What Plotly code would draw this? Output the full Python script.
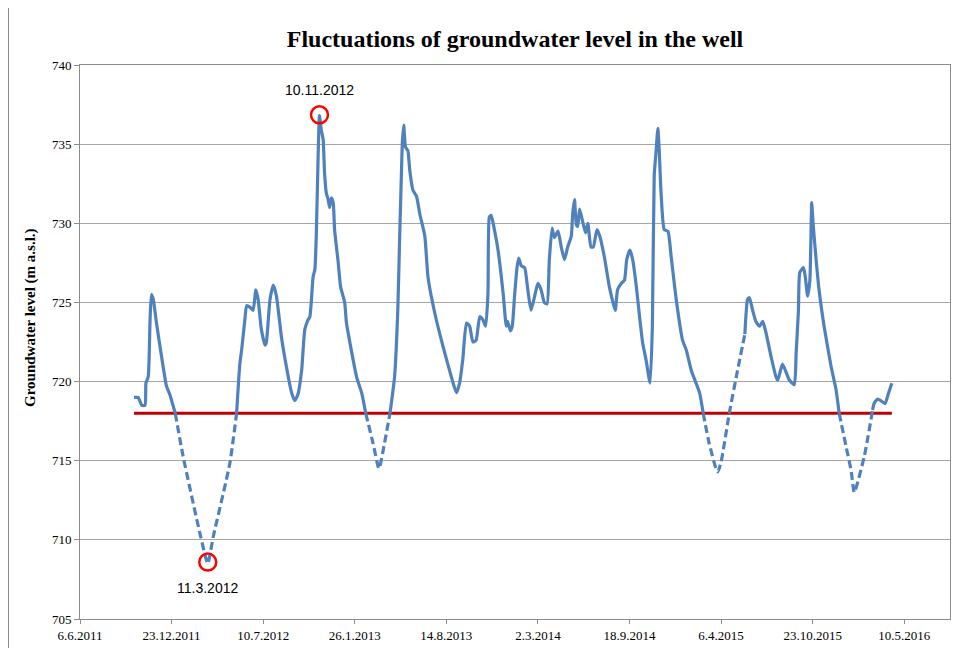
import plotly.graph_objects as go
import pandas as pd

# ---------------- data ----------------
dates = [
    "2011-10-02", "2011-10-11", "2011-10-19", "2011-10-26", "2011-10-28", "2011-11-02", "2011-11-06",
    "2011-11-09", "2011-11-13", "2011-11-20", "2011-12-01", "2011-12-12", "2011-12-19", "2011-12-31",
    "2012-01-17", "2012-02-23", "2012-03-11", "2012-03-23", "2012-04-28", "2012-05-13",
    "2012-05-20", "2012-05-24", "2012-05-31", "2012-06-04", "2012-06-11", "2012-06-18", "2012-06-24",
    "2012-06-29", "2012-07-06", "2012-07-14", "2012-07-17", "2012-07-25", "2012-08-01", "2012-08-08",
    "2012-08-19", "2012-08-30", "2012-09-10", "2012-09-17", "2012-09-24", "2012-10-02", "2012-10-09",
    "2012-10-16", "2012-10-20", "2012-10-23", "2012-10-27", "2012-10-31", "2012-11-03", "2012-11-07",
    "2012-11-10", "2012-11-14", "2012-11-18", "2012-11-21", "2012-11-25", "2012-11-29", "2012-12-02",
    "2012-12-06", "2012-12-10", "2012-12-13", "2012-12-21", "2012-12-26", "2013-01-04", "2013-01-08",
    "2013-01-30", "2013-02-10", "2013-02-19",
    "2013-03-07", "2013-03-20", "2013-04-01", "2013-04-13",
    "2013-04-23", "2013-04-30", "2013-05-04", "2013-05-08", "2013-05-10", "2013-05-13", "2013-05-17",
    "2013-05-22", "2013-05-26", "2013-06-02", "2013-06-10", "2013-06-17", "2013-06-28", "2013-07-05",
    "2013-07-20", "2013-08-07", "2013-08-25", "2013-09-05", "2013-09-12", "2013-09-19", "2013-09-27",
    "2013-10-04", "2013-10-11", "2013-10-18", "2013-10-26", "2013-11-02", "2013-11-08", "2013-11-13",
    "2013-11-16", "2013-11-20", "2013-11-27", "2013-12-05", "2013-12-16", "2013-12-23", "2013-12-26",
    "2014-01-01", "2014-01-05", "2014-01-10", "2014-01-15", "2014-01-19", "2014-01-25", "2014-02-01",
    "2014-02-08", "2014-02-15", "2014-02-23", "2014-03-02", "2014-03-09", "2014-03-16", "2014-03-22",
    "2014-03-27", "2014-04-02", "2014-04-07", "2014-04-15", "2014-04-22", "2014-04-29", "2014-05-06",
    "2014-05-14", "2014-05-17", "2014-05-21", "2014-05-25", "2014-05-28", "2014-06-01", "2014-06-07",
    "2014-06-14", "2014-06-19", "2014-06-26", "2014-07-01", "2014-07-09", "2014-07-15", "2014-07-25",
    "2014-08-05", "2014-08-13", "2014-08-18", "2014-08-23", "2014-08-31", "2014-09-07", "2014-09-12",
    "2014-09-19", "2014-09-25", "2014-10-03", "2014-10-10", "2014-10-17", "2014-10-24", "2014-11-02",
    "2014-11-07", "2014-11-11", "2014-11-15", "2014-11-19", "2014-11-22", "2014-11-26", "2014-12-03",
    "2014-12-11", "2014-12-18", "2014-12-29", "2015-01-12", "2015-01-20", "2015-01-31", "2015-02-18",
    "2015-02-26",
    "2015-03-11", "2015-03-26", "2015-03-30", "2015-04-06", "2015-04-24", "2015-05-12", "2015-05-28",
    "2015-06-03", "2015-06-07", "2015-06-14", "2015-06-21", "2015-06-29", "2015-07-06", "2015-07-13",
    "2015-07-24", "2015-08-04", "2015-08-08", "2015-08-18", "2015-08-26", "2015-09-02", "2015-09-13",
    "2015-09-17", "2015-09-22", "2015-09-25", "2015-10-03", "2015-10-07", "2015-10-12", "2015-10-17",
    "2015-10-21", "2015-10-24", "2015-10-30", "2015-11-06", "2015-11-17", "2015-12-02", "2015-12-13",
    "2015-12-20",
    "2016-01-04", "2016-01-15", "2016-01-22", "2016-02-13", "2016-03-02",
    "2016-03-05", "2016-03-13", "2016-03-20", "2016-03-29", "2016-04-06", "2016-04-13",
]
levels = [
    719.0, 719.0, 718.5, 718.5, 719.9, 720.3, 723.9,
    725.5, 725.2, 723.7, 721.6, 719.7, 719.2, 718.0,
    715.3, 710.4, 708.5, 710.2, 714.8, 718.0,
    721.1, 722.0, 723.9, 724.8, 724.7, 724.5, 725.8,
    725.2, 723.3, 722.3, 722.5, 725.2, 726.1, 725.4,
    722.8, 720.9, 719.3, 718.8, 719.2, 720.7, 723.3,
    723.9, 724.1, 725.0, 726.6, 727.1, 729.2, 734.2,
    736.8, 735.9, 735.3, 733.2, 731.9, 731.5, 731.0,
    731.6, 731.3, 729.6, 727.5, 726.0, 725.0, 723.7,
    720.3, 719.3, 718.0,
    716.1, 714.5, 716.1, 718.0,
    720.3, 724.5, 729.0, 733.2, 735.1, 736.2, 734.8,
    734.6, 733.4, 732.1, 731.7, 730.6, 729.2, 726.6,
    724.3, 722.2, 720.3, 719.3, 719.9, 721.4, 723.7,
    723.5, 722.5, 722.6, 724.1, 723.9, 723.5, 725.6,
    730.4, 730.5, 729.6, 728.3, 725.6, 723.5, 723.8,
    723.2, 723.5, 725.4, 727.1, 727.8, 727.3, 727.2,
    725.8, 724.5, 725.4, 726.2, 725.8, 725.0, 724.9,
    727.7, 729.7, 729.1, 729.5, 728.5, 727.7, 728.5,
    729.2, 730.6, 731.5, 729.9, 729.8, 730.9, 730.2,
    729.4, 730.0, 728.5, 728.5, 729.6, 729.2, 727.9,
    726.0, 725.0, 724.5, 725.8, 726.2, 726.4, 727.7,
    728.3, 727.7, 726.0, 724.1, 722.4, 721.4, 719.9,
    723.5, 733.0, 734.5, 736.0, 734.6, 731.9, 729.6,
    729.5, 727.9, 725.2, 722.6, 722.0, 720.7, 719.3,
    718.0,
    716.1, 714.5, 714.3, 714.9, 718.0, 720.7, 723.0,
    725.2, 725.3, 724.5, 723.8, 723.5, 723.8, 723.1,
    721.6, 720.3, 720.1, 721.1, 720.6, 720.1, 719.8,
    721.8, 724.5, 726.9, 727.2, 726.6, 725.4, 726.4,
    731.3, 730.0, 727.9, 725.8, 723.5, 721.0, 719.5,
    718.0,
    715.9, 714.4, 713.0, 715.3, 718.2,
    718.6, 718.9, 718.8, 718.6, 719.3, 719.9,
]
# periods in which the level is estimated (drawn dashed)
estimated_periods = [
    ("2011-12-31", "2012-05-13"),
    ("2013-02-19", "2013-04-13"),
    ("2015-02-26", "2015-05-28"),
    ("2015-12-20", "2016-03-02"),
]
threshold_level = 718.0
threshold_dates = ["2011-10-02", "2016-04-13"]

marked_dates = ["2012-11-10", "2012-03-11"]
marked_levels = [736.85, 708.6]
marked_labels = ["10.11.2012", "11.3.2012"]

tick_dates = ["2011-06-06", "2011-12-23", "2012-07-10", "2013-01-26", "2013-08-14",
              "2014-03-02", "2014-09-18", "2015-04-06", "2015-10-23", "2016-05-10"]
tick_labels = ["6.6.2011", "23.12.2011", "10.7.2012", "26.1.2013", "14.8.2013",
               "2.3.2014", "18.9.2014", "6.4.2015", "23.10.2015", "10.5.2016"]

# ---------------- build segments ----------------
d = pd.to_datetime(dates)
periods = [(pd.Timestamp(a), pd.Timestamp(b)) for a, b in estimated_periods]


def is_est(i):
    return any(a <= d[i] and d[i + 1] <= b for a, b in periods)


def run(want):
    xs, ys = [], []
    last = None
    for i in range(len(dates) - 1):
        if is_est(i) != want:
            continue
        if last != i:
            if xs:
                xs.append(None)
                ys.append(None)
            xs.append(dates[i])
            ys.append(levels[i])
        xs.append(dates[i + 1])
        ys.append(levels[i + 1])
        last = i + 1
    return xs, ys


sx, sy = run(False)
ex, ey = run(True)

BLUE = "#4F81BD"
SERIF = "Liberation Serif, Times New Roman, serif"

W, H = 971, 640
ML, MR, MT, MB = 72, 29, 57, 29
PW, PH = W - ML - MR, H - MT - MB

fig = go.Figure()
fig.add_trace(go.Scatter(x=threshold_dates, y=[threshold_level] * 2, mode="lines",
                         line=dict(color="#C00000", width=3), hoverinfo="skip"))
fig.add_trace(go.Scatter(x=ex, y=ey, mode="lines", connectgaps=False,
                         line=dict(color=BLUE, width=3.2, dash="8px,4px", shape="spline", smoothing=0.5)))
fig.add_trace(go.Scatter(x=sx, y=sy, mode="lines", connectgaps=False,
                         line=dict(color=BLUE, width=3.2, shape="spline", smoothing=0.5)))
fig.add_trace(go.Scatter(x=marked_dates, y=marked_levels, mode="markers",
                         marker=dict(symbol="circle-open", size=17, color="#FF0000",
                                     line=dict(width=2.5, color="#FF0000"))))

for dt, lv, lab, off in zip(marked_dates, marked_levels, marked_labels, [-25, 26]):
    fig.add_annotation(x=dt, y=lv, text=lab, showarrow=False, yshift=-off,
                       font=dict(family="Liberation Sans, Arial, sans-serif", size=14, color="#000"))

fig.add_annotation(xref="paper", yref="paper", x=0, y=1 - (310 - MT) / PH, xshift=-50,
                   text="<b>Groundwater level (m a.s.l.)</b>", textangle=-90, showarrow=False,
                   xanchor="center", yanchor="middle",
                   font=dict(family=SERIF, size=15, color="#000"))

# outer chart border (left edge of the chart frame)
fig.add_shape(type="line", xref="paper", yref="paper", x0=(-ML + 0.5) / PW, x1=(-ML + 0.5) / PW,
              y0=-MB / PH, y1=(H - MB) / PH, line=dict(color="#8C8C8C", width=1))

fig.update_layout(
    width=W, height=H,
    margin=dict(l=ML, r=MR, t=MT, b=MB),
    paper_bgcolor="white", plot_bgcolor="white",
    showlegend=False,
    title=dict(text="<b>Fluctuations of groundwater level in the well</b>",
               x=507 / W, xanchor="center", y=1 - 31 / H, yanchor="middle",
               font=dict(family=SERIF, size=24, color="#000")),
    xaxis=dict(type="date", range=["2011-06-06", "2016-08-18"],
               tickvals=tick_dates, ticktext=tick_labels,
               showgrid=False, showline=True, linecolor="#8C8C8C", linewidth=1, mirror=True,
               ticks="outside", ticklen=4, tickcolor="#8C8C8C", zeroline=False,
               tickfont=dict(family=SERIF, size=13, color="#000"), automargin=False),
    yaxis=dict(range=[705, 740], tick0=705, dtick=5,
               showgrid=True, gridcolor="#A6A6A6", gridwidth=1,
               showline=True, linecolor="#8C8C8C", linewidth=1, mirror=True,
               ticks="outside", ticklen=5, tickcolor="#8C8C8C", zeroline=False,
               tickfont=dict(family=SERIF, size=13, color="#000"), automargin=False),
)

fig.write_html("out.html")
